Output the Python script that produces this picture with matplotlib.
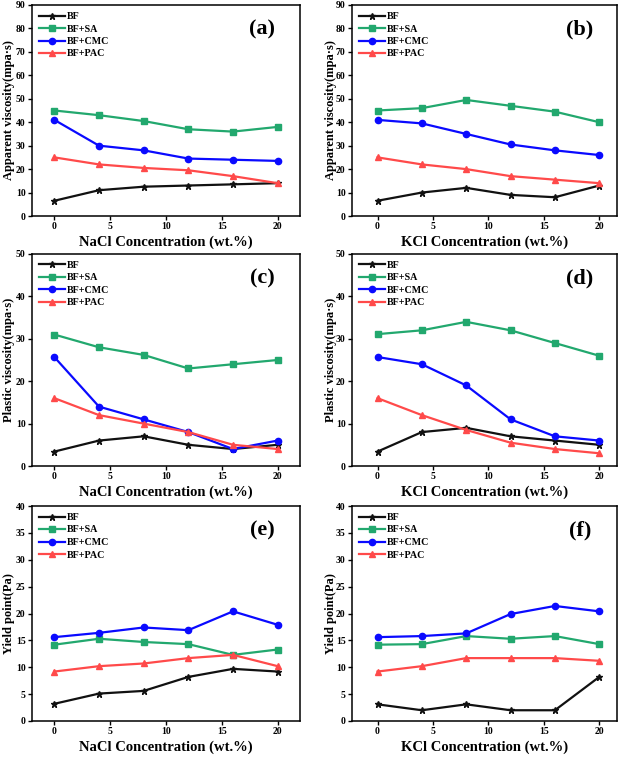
import matplotlib
matplotlib.use("Agg")
import matplotlib.pyplot as plt

plt.rcParams['font.family'] = ['Liberation Serif', 'DejaVu Serif']
plt.rcParams['font.weight'] = 'bold'

conc = [0, 4, 8, 12, 16, 20]
series_names = ['BF', 'BF+SA', 'BF+CMC', 'BF+PAC']

# (a) NaCl apparent viscosity
av_nacl_bf = [6.5, 11, 12.5, 13, 13.5, 14]
av_nacl_sa = [45, 43, 40.5, 37, 36, 38]
av_nacl_cmc = [41, 30, 28, 24.5, 24, 23.5]
av_nacl_pac = [25, 22, 20.5, 19.5, 17, 14]
# (b) KCl apparent viscosity
av_kcl_bf = [6.5, 10, 12, 9, 8, 13]
av_kcl_sa = [45, 46, 49.5, 47, 44.5, 40]
av_kcl_cmc = [41, 39.5, 35, 30.5, 28, 26]
av_kcl_pac = [25, 22, 20, 17, 15.5, 14]
# (c) NaCl plastic viscosity
pv_nacl_bf = [3.4, 6, 7, 5, 4, 5]
pv_nacl_sa = [31, 28, 26.2, 23, 24, 25]
pv_nacl_cmc = [25.7, 14, 11, 8, 4, 6]
pv_nacl_pac = [16, 12, 10, 8, 5, 4]
# (d) KCl plastic viscosity
pv_kcl_bf = [3.4, 8, 9, 7, 6, 5]
pv_kcl_sa = [31.1, 32, 34, 32, 29, 26]
pv_kcl_cmc = [25.7, 24, 19, 11, 7, 6]
pv_kcl_pac = [16, 12, 8.5, 5.5, 4, 3]
# (e) NaCl yield point
yp_nacl_bf = [3.2, 5.1, 5.6, 8.2, 9.7, 9.2]
yp_nacl_sa = [14.2, 15.3, 14.7, 14.3, 12.3, 13.3]
yp_nacl_cmc = [15.6, 16.4, 17.4, 16.9, 20.4, 17.9]
yp_nacl_pac = [9.2, 10.2, 10.7, 11.7, 12.3, 10.2]
# (f) KCl yield point
yp_kcl_bf = [3.1, 2.0, 3.1, 2.0, 2.0, 8.2]
yp_kcl_sa = [14.2, 14.3, 15.8, 15.3, 15.8, 14.3]
yp_kcl_cmc = [15.6, 15.8, 16.3, 19.9, 21.4, 20.4]
yp_kcl_pac = [9.2, 10.2, 11.7, 11.7, 11.7, 11.2]

colors = ['#111111', '#22a86e', '#0a0aff', '#ff4a4a']
markers = ['*', 's', 'o', '^']
msizes = [5, 4, 4.5, 4.5]

panels = [
    ('(a)', [av_nacl_bf, av_nacl_sa, av_nacl_cmc, av_nacl_pac], 'Apparent viscosity(mpa·s)', 'NaCl Concentration (wt.%)', 90, 10),
    ('(b)', [av_kcl_bf, av_kcl_sa, av_kcl_cmc, av_kcl_pac], 'Apparent viscosity(mpa·s)', 'KCl Concentration (wt.%)', 90, 10),
    ('(c)', [pv_nacl_bf, pv_nacl_sa, pv_nacl_cmc, pv_nacl_pac], 'Plastic viscosity(mpa·s)', 'NaCl Concentration (wt.%)', 50, 10),
    ('(d)', [pv_kcl_bf, pv_kcl_sa, pv_kcl_cmc, pv_kcl_pac], 'Plastic viscosity(mpa·s)', 'KCl Concentration (wt.%)', 50, 10),
    ('(e)', [yp_nacl_bf, yp_nacl_sa, yp_nacl_cmc, yp_nacl_pac], 'Yield point(Pa)', 'NaCl Concentration (wt.%)', 40, 5),
    ('(f)', [yp_kcl_bf, yp_kcl_sa, yp_kcl_cmc, yp_kcl_pac], 'Yield point(Pa)', 'KCl Concentration (wt.%)', 40, 5),
]

W, H = 624, 758
fig = plt.figure(figsize=(W / 100, H / 100), dpi=100)
rows = [(5, 216), (254, 466), (506, 721)]
cols = [(32, 300, (-2, 22), -0.064), (352, 617, (-2.3, 21.6), -0.057)]

for i, (lab, data, ylab, xlab, ymax, ystep) in enumerate(panels):
    r, c = divmod(i, 2)
    top, bot = rows[r]
    left, right, xl, ylx = cols[c]
    ax = fig.add_axes([left / W, 1 - bot / H, (right - left) / W, (bot - top) / H])
    for k, vals in enumerate(data):
        ax.plot(conc, vals, color=colors[k], marker=markers[k], ms=msizes[k], lw=1.6,
                label=series_names[k])
    ax.set_xlim(*xl)
    ax.set_ylim(0, ymax)
    ax.set_xticks([0, 5, 10, 15, 20])
    ax.set_yticks(range(0, ymax + 1, ystep))
    ax.tick_params(direction='out', length=3, width=1, labelsize=7, pad=1.5)
    for t in ax.get_xticklabels() + ax.get_yticklabels():
        t.set_fontweight('bold')
    for s in ax.spines.values():
        s.set_linewidth(1.1)
    ax.set_ylabel(ylab, fontsize=9, fontweight='bold')
    ax.yaxis.set_label_coords(ylx, 0.5)
    ax.set_xlabel(xlab, fontsize=10.5, fontweight='bold', labelpad=3)
    ax.text(0.86, 0.885, lab, transform=ax.transAxes, fontsize=16, fontweight='bold',
            ha='center', va='center')
    ax.legend(loc='upper left', frameon=False, handlelength=2.6,
              handletextpad=0.2, labelspacing=0.35, borderaxespad=0.3,
              prop={'weight': 'bold', 'size': 7.2})

fig.savefig('out.png', dpi=100)
